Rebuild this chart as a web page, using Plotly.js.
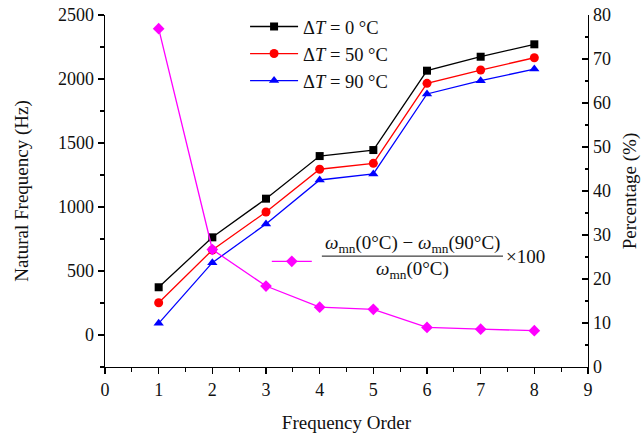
<!DOCTYPE html>
<html>
<head>
<meta charset="utf-8">
<script src="https://cdn.plot.ly/plotly-3.0.1.min.js"></script>
<style>html,body{margin:0;padding:0;background:#fff;}#chart{width:641px;height:438px;}</style>
</head>
<body>
<div id="chart"></div>
<script>
// Data
const order = [1, 2, 3, 4, 5, 6, 7, 8];
const freqT0 = [373, 763, 1065, 1398, 1445, 2065, 2174, 2271];
const freqT50 = [252, 664, 961, 1295, 1341, 1966, 2070, 2166];
const freqT90 = [91, 565, 867, 1211, 1258, 1883, 1987, 2078];
const percentDrop = [76.9, 26.7, 18.4, 13.6, 13.1, 9.0, 8.6, 8.25];
const seriesNames = ['\u0394<i>T</i> = 0 \u00b0C', '\u0394<i>T</i> = 50 \u00b0C', '\u0394<i>T</i> = 90 \u00b0C'];

const serif = 'Liberation Serif, Times New Roman, serif';
const lw = 1.3;

const traces = [
  {x: order, y: freqT0, name: seriesNames[0], mode: 'lines+markers',
   line: {color: '#000000', width: lw}, marker: {symbol: 'square', size: 8, color: '#000000'}},
  {x: order, y: freqT50, name: seriesNames[1], mode: 'lines+markers',
   line: {color: '#ff0000', width: lw}, marker: {symbol: 'circle', size: 9, color: '#ff0000'}},
  {x: order, y: freqT90, name: seriesNames[2], mode: 'lines+markers',
   line: {color: '#0000ff', width: lw}, marker: {symbol: 'triangle-up', size: 9, color: '#0000ff'}},
  {x: order, y: percentDrop, name: ' ', yaxis: 'y2', legend: 'legend2', mode: 'lines+markers',
   line: {color: '#ff00ff', width: lw}, marker: {symbol: 'diamond', size: 9, color: '#ff00ff'}}
];

const axisCommon = {
  showline: true, linecolor: '#000', linewidth: 1.3, showgrid: false, zeroline: false,
  ticks: 'outside', ticklen: 6, tickwidth: 1.2, tickcolor: '#000',
  tickfont: {family: serif, size: 18, color: '#111'}
};

const layout = {
  width: 641, height: 438,
  margin: {l: 105, r: 53, t: 15, b: 71, autoexpand: false},
  paper_bgcolor: '#fff', plot_bgcolor: '#fff',
  font: {family: serif, color: '#111'},
  xaxis: Object.assign({}, axisCommon, {
    range: [0, 9], tickmode: 'linear', tick0: 0, dtick: 1,
    minor: {dtick: 0.5, ticklen: 3.5, ticks: 'outside', tickcolor: '#000', tickwidth: 1.2},
    title: {text: 'Frequency Order', font: {family: serif, size: 19, color: '#111'}, standoff: 16}
  }),
  yaxis: Object.assign({}, axisCommon, {
    range: [-250, 2500], tickmode: 'linear', tick0: 0, dtick: 500,
    minor: {dtick: 250, ticklen: 3.5, ticks: 'outside', tickcolor: '#000', tickwidth: 1.2},
    title: {text: 'Natural Frequency (Hz)', font: {family: serif, size: 19, color: '#111'}, standoff: 24}
  }),
  yaxis2: Object.assign({}, axisCommon, {
    overlaying: 'y', side: 'right', anchor: 'x',
    range: [0, 80], tickmode: 'linear', tick0: 0, dtick: 10, ticks: 'inside',
    minor: {dtick: 5, ticklen: 3.5, ticks: 'inside', tickcolor: '#000', tickwidth: 1.2},
    title: {text: 'Percentage (%)', font: {family: serif, size: 19, color: '#111'}, standoff: 18}
  }),
  showlegend: true,
  legend: {x: 0.29, y: 1.02, xanchor: 'left', yanchor: 'top', bgcolor: 'rgba(0,0,0,0)',
    font: {family: serif, size: 18.5, color: '#111'}, tracegroupgap: 0, itemwidth: 48},
  legend2: {x: 0.335, y: 0.352, xanchor: 'left', yanchor: 'top', bgcolor: 'rgba(0,0,0,0)',
    font: {family: serif, size: 18, color: '#111'}, itemwidth: 40},
  shapes: [
    {type: 'line', xref: 'paper', yref: 'paper', x0: 0.449, x1: 0.824, y0: 0.315, y1: 0.315,
     line: {color: '#111', width: 1}}
  ],
  annotations: [
    {xref: 'paper', yref: 'paper', x: 0.637, y: 0.349, xanchor: 'center', yanchor: 'middle', showarrow: false,
     text: '<i>\u03c9</i><sub>mn</sub>(0\u00b0C) \u2212 <i>\u03c9</i><sub>mn</sub>(90\u00b0C)',
     font: {family: serif, size: 19, color: '#111'}},
    {xref: 'paper', yref: 'paper', x: 0.637, y: 0.276, xanchor: 'center', yanchor: 'middle', showarrow: false,
     text: '<i>\u03c9</i><sub>mn</sub>(0\u00b0C)',
     font: {family: serif, size: 19, color: '#111'}},
    {xref: 'paper', yref: 'paper', x: 0.826, y: 0.315, xanchor: 'left', yanchor: 'middle', showarrow: false,
     text: '\u00d7100', font: {family: serif, size: 19, color: '#111'}}
  ]
};

Plotly.newPlot('chart', traces, layout, {displayModeBar: false, staticPlot: true});
</script>
</body>
</html>
